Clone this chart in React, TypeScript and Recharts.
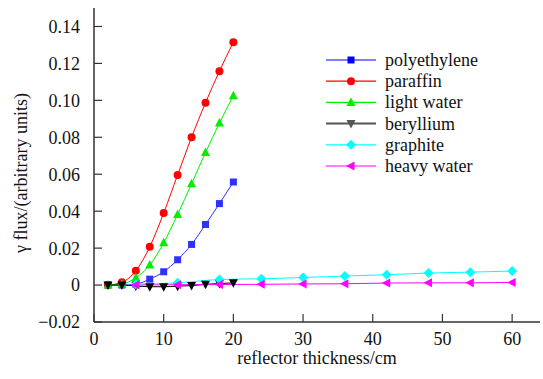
import React from 'react';
import { LineChart, Line, XAxis, YAxis } from 'recharts';

const thicknessShort = [2, 4, 6, 8, 10, 12, 14, 16, 18, 20];
const thicknessLong = [6, 12, 18, 24, 30, 36, 42, 48, 54, 60];
const polyethylene = [0, 0, 0.0005, 0.0032, 0.0072, 0.0137, 0.022, 0.0328, 0.0441, 0.0558];
const paraffin = [0, 0.0015, 0.0077, 0.0207, 0.039, 0.0596, 0.08, 0.0987, 0.1158, 0.1315];
const lightWater = [0, 0.0005, 0.004, 0.0108, 0.0229, 0.0382, 0.0548, 0.0717, 0.0877, 0.1025];
const beryllium = [0, 0, -0.0005, -0.0009, -0.0009, -0.0006, -0.0003, 0.0004, 0.0008, 0.0012];
const graphite = [0.0005, 0.0012, 0.003, 0.0034, 0.0041, 0.0049, 0.0056, 0.0065, 0.007, 0.0076];
const heavyWater = [0, 0.0002, 0.0003, 0.0004, 0.0006, 0.0007, 0.0011, 0.0012, 0.0012, 0.0014];
const xTicks = [0, 10, 20, 30, 40, 50, 60];
const yTicks = [-0.02, 0, 0.02, 0.04, 0.06, 0.08, 0.1, 0.12, 0.14];

const FONT = 'Liberation Serif';

const toRows = (xs: number[], ys: number[]) => xs.map((x, i) => ({ x, y: ys[i] }));

type Shape = 'square' | 'circle' | 'up' | 'down' | 'diamond' | 'left';

const series: { name: string; color: string; legendColor: string; shape: Shape; data: { x: number; y: number }[] }[] = [
  { name: 'polyethylene', color: '#3030ff', legendColor: '#0000ff', shape: 'square', data: toRows(thicknessShort, polyethylene) },
  { name: 'paraffin', color: '#ff0000', legendColor: '#ff0000', shape: 'circle', data: toRows(thicknessShort, paraffin) },
  { name: 'light water', color: '#00ee00', legendColor: '#00ee00', shape: 'up', data: toRows(thicknessShort, lightWater) },
  { name: 'beryllium', color: '#000000', legendColor: '#555555', shape: 'down', data: toRows(thicknessShort, beryllium) },
  { name: 'graphite', color: '#00ffff', legendColor: '#00ffff', shape: 'diamond', data: toRows(thicknessLong, graphite) },
  { name: 'heavy water', color: '#ff00ff', legendColor: '#ff00ff', shape: 'left', data: toRows(thicknessLong, heavyWater) },
];

function Marker({ cx, cy, shape, color }: { cx: number; cy: number; shape: Shape; color: string }) {
  switch (shape) {
    case 'square':
      return <rect x={cx - 3.5} y={cy - 3.5} width={7} height={7} fill={color} />;
    case 'circle':
      return <circle cx={cx} cy={cy} r={4} fill={color} />;
    case 'up':
      return <polygon points={`${cx},${cy - 5} ${cx + 4.5},${cy + 3.5} ${cx - 4.5},${cy + 3.5}`} fill={color} />;
    case 'down':
      return <polygon points={`${cx},${cy + 5} ${cx + 4.5},${cy - 3.5} ${cx - 4.5},${cy - 3.5}`} fill={color} />;
    case 'diamond':
      return <polygon points={`${cx},${cy - 5} ${cx + 5},${cy} ${cx},${cy + 5} ${cx - 5},${cy}`} fill={color} />;
    case 'left':
      return <polygon points={`${cx - 5},${cy} ${cx + 3.5},${cy - 4.5} ${cx + 3.5},${cy + 4.5}`} fill={color} />;
  }
  return null;
}

const fmtY = (v: number) => (v === 0 ? '0' : v < 0 ? '\u2212' + Math.abs(v).toFixed(2) : v.toFixed(2));

const textStyle = { fontFamily: FONT, fontSize: 18 };

function LegendBox() {
  const rowH = 21.2;
  return (
    <svg width={190} height={140} style={{ display: 'block' }}>
      {series.map((s, i) => {
        const y = 10 + i * rowH;
        return (
          <g key={s.name}>
            <line x1={0} x2={50} y1={y} y2={y} stroke={s.legendColor} strokeWidth={s.shape === 'down' ? 2 : 1.2} />
            <Marker cx={25} cy={y} shape={s.shape} color={s.legendColor} />
            <text x={59} y={y + 6} style={textStyle} fill="#111">
              {s.name}
            </text>
          </g>
        );
      })}
    </svg>
  );
}

export default function App() {
  return (
    <div style={{ position: 'absolute', left: 0, top: 0, width: 543, height: 379, background: '#fff', fontFamily: FONT }}>
      <LineChart width={543} height={379} margin={{ top: 8, right: 3, left: 0, bottom: 0 }} style={{ fontFamily: FONT }}>
        <XAxis
          type="number"
          dataKey="x"
          domain={[0, 64]}
          ticks={xTicks}
          allowDataOverflow
          height={57}
          tickSize={-8}
          tickMargin={18}
          axisLine={{ stroke: '#333', strokeWidth: 1.5 }}
          tickLine={{ stroke: '#333', strokeWidth: 1.2 }}
          tick={{ fontFamily: FONT, fontSize: 18, fill: '#111', style: textStyle }}
          label={{
            content: (props: any) => {
              const vb = props.viewBox || { x: 94, y: 322, width: 446 };
              return (
                <text x={vb.x + vb.width / 2} y={vb.y + 42} textAnchor="middle" style={textStyle} fill="#111">
                  reflector thickness/cm
                </text>
              );
            },
          }}
        />
        <YAxis
          type="number"
          domain={[-0.02, 0.15]}
          ticks={yTicks}
          allowDataOverflow
          width={94}
          tickSize={-8}
          tickMargin={22}
          tickFormatter={fmtY}
          axisLine={{ stroke: '#333', strokeWidth: 1.5 }}
          tickLine={{ stroke: '#333', strokeWidth: 1.2 }}
          tick={{ fontFamily: FONT, fontSize: 18, fill: '#111', style: textStyle }}
          label={{
            content: () => (
              <text x={27} y={173} transform="rotate(-90, 27, 173)" textAnchor="middle" style={textStyle} fill="#111">
                γ flux/(arbitrary units)
              </text>
            ),
          }}
        />
        {series.map((s) => (
          <Line
            key={s.name}
            name={s.name}
            data={s.data}
            dataKey="y"
            type="monotone"
            stroke={s.color}
            strokeWidth={1}
            isAnimationActive={false}
            dot={(p: any) => <Marker key={`${s.name}-${p.index}`} cx={p.cx} cy={p.cy} shape={s.shape} color={s.color} />}
            activeDot={false}
          />
        ))}
      </LineChart>
      <div style={{ position: 'absolute', left: 326, top: 50 }}>
        <LegendBox />
      </div>
    </div>
  );
}
